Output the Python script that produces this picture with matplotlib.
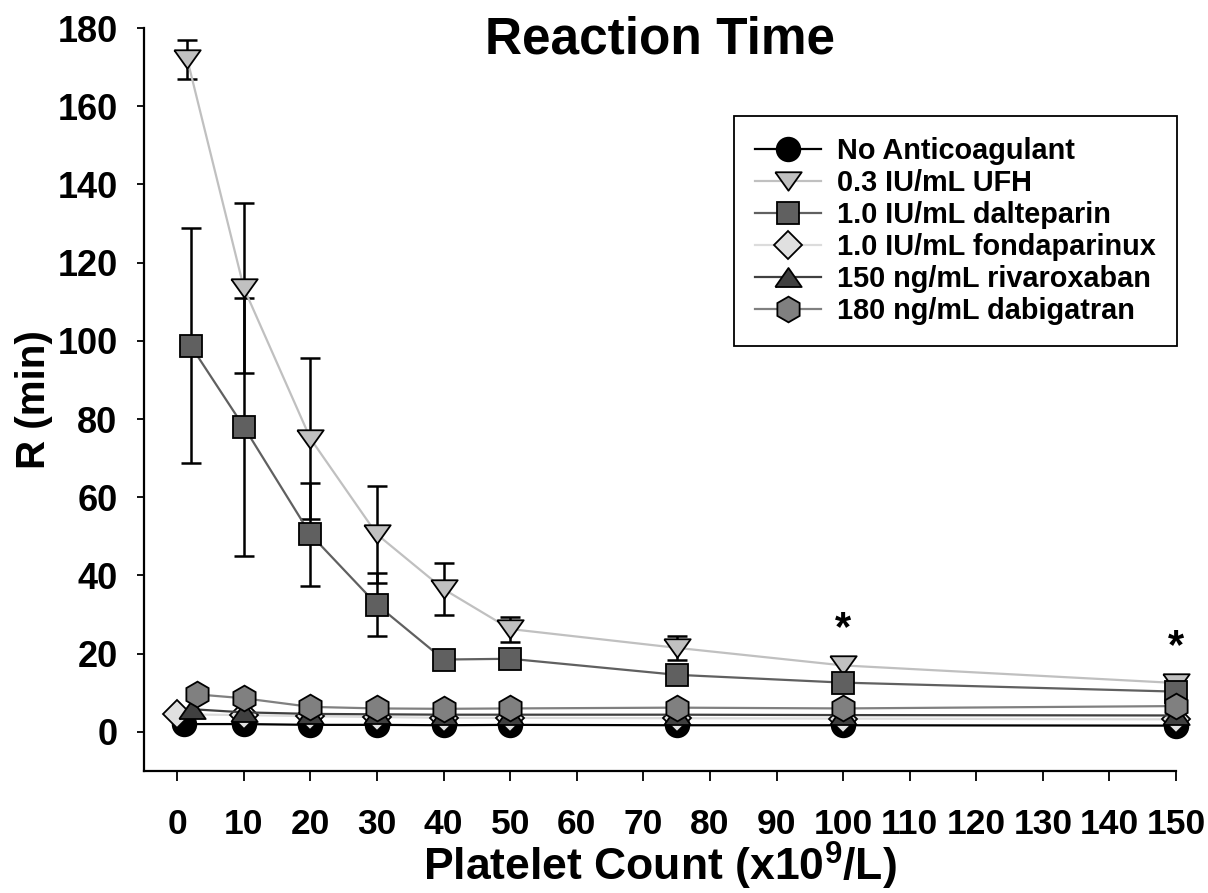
import matplotlib
matplotlib.use("Agg")
import matplotlib.pyplot as plt
import numpy as np

plt.rcParams['font.family'] = ['Liberation Sans', 'DejaVu Sans']
plt.rcParams['font.weight'] = 'bold'
plt.rcParams['mathtext.fontset'] = 'custom'
plt.rcParams['mathtext.rm'] = 'Liberation Sans:bold'
plt.rcParams['mathtext.bf'] = 'Liberation Sans:bold'
plt.rcParams['mathtext.default'] = 'bf'

# platelet counts (x10^9/L); first point differs a little per series
x_none = [1.0, 10, 20, 30, 40, 50, 75, 100, 150]
x_ufh = [1.5, 10, 20, 30, 40, 50, 75, 100, 150]
x_dalt = [2.0, 10, 20, 30, 40, 50, 75, 100, 150]
x_fonda = [0.0, 10, 20, 30, 40, 50, 75, 100, 150]
x_riva = [2.2, 10, 20, 30, 40, 50, 75, 100, 150]
x_dabi = [2.9, 10, 20, 30, 40, 50, 75, 100, 150]

# R (min)
r_none = [2.0, 2.0, 1.8, 1.8, 1.7, 1.8, 1.7, 1.7, 1.6]
r_ufh = [172.0, 113.5, 75.0, 50.5, 36.5, 26.3, 21.5, 17.0, 12.5]
err_ufh = [5.0, 21.7, 20.5, 12.3, 6.6, 3.2, 3.0, 2.0, 1.0]
r_dalt = [98.8, 78.0, 50.5, 32.5, 18.5, 18.7, 14.6, 12.6, 10.3]
err_dalt = [30.0, 33.0, 13.2, 8.1, 1.5, 1.5, 1.0, 1.0, 1.0]
r_fonda = [4.5, 4.3, 4.0, 3.8, 3.6, 3.6, 3.5, 3.4, 3.2]
r_riva = [5.8, 5.0, 4.6, 4.5, 4.4, 4.4, 4.4, 4.3, 4.2]
r_dabi = [9.6, 8.6, 6.4, 6.0, 5.9, 6.0, 6.2, 6.0, 6.6]

labels = ["No Anticoagulant", "0.3 IU/mL UFH", "1.0 IU/mL dalteparin",
          "1.0 IU/mL fondaparinux", "150 ng/mL rivaroxaban", "180 ng/mL dabigatran"]

# significance markers
star_x = [100, 150]
star_y = [26.2, 21.8]

xticks = np.arange(0, 151, 10)
yticks = np.arange(0, 181, 20)

tri_down = [(-1, 0.7), (1, 0.7), (0, -0.7), (-1, 0.7)]
tri_up = [(-1, -0.72), (1, -0.72), (0, 0.72), (-1, -0.72)]

fig = plt.figure(figsize=(12.08, 8.93), dpi=100)
ax = fig.add_axes([144/1208, 1-771/893, 1032/1208, 743/893])

# error bars below the markers
ax.errorbar(x_ufh, r_ufh, yerr=err_ufh, fmt='none', ecolor='black',
            elinewidth=1.8, capsize=7.5, capthick=1.8, zorder=1)
ax.errorbar(x_dalt, r_dalt, yerr=err_dalt, fmt='none', ecolor='black',
            elinewidth=1.8, capsize=7.5, capthick=1.8, zorder=1)

series = [
    (x_none, r_none, 'o', 17, 'black', 'black'),
    (x_ufh, r_ufh, tri_down, 19, '#c0c0c0', '#c0c0c0'),
    (x_dalt, r_dalt, 's', 15.5, '#606060', '#606060'),
    (x_fonda, r_fonda, 'D', 14, '#e0e0e0', '#dcdcdc'),
    (x_riva, r_riva, tri_up, 19, '#404040', '#404040'),
    (x_dabi, r_dabi, 'h', 18.5, '#808080', '#808080'),
]
for i, (xs, ys, mk, ms, fc, lc) in enumerate(series):
    ax.plot(xs, ys, marker=mk, markersize=ms, markerfacecolor=fc,
            markeredgecolor='black', markeredgewidth=1.3, color=lc,
            linewidth=1.6, label=labels[i], zorder=3 + i, clip_on=False)

for sx, sy in zip(star_x, star_y):
    ax.text(sx, sy, '*', ha='center', va='center', fontsize=30,
            fontweight='bold', zorder=10)

ax.set_xlim(-5, 150)
ax.set_ylim(-10, 180)
ax.set_xticks(xticks)
ax.set_yticks(yticks)
ax.spines['top'].set_visible(False)
ax.spines['right'].set_visible(False)
ax.spines['left'].set_linewidth(1.6)
ax.spines['bottom'].set_linewidth(1.6)
ax.tick_params(axis='x', direction='out', length=7, width=1.3, pad=20, labelsize=25.5)
ax.tick_params(axis='y', direction='out', length=5, width=1.3, pad=14, labelsize=26)
for lab in ax.get_xticklabels() + ax.get_yticklabels():
    lab.set_fontweight('bold')

fig.text(660/1208, 1-881/893, 'Platelet Count (x10$^{9}$/L)', ha='center',
         va='baseline', fontsize=32, fontweight='bold')
ax.set_ylabel('R (min)', fontsize=29, fontweight='bold', labelpad=3)
fig.text(660/1208, 1-40/893, 'Reaction Time', ha='center', va='center',
         fontsize=37, fontweight='bold')

leg = ax.legend(loc='upper right', bbox_to_anchor=(1.001, 0.8816),
                borderaxespad=0, fancybox=False, framealpha=1,
                edgecolor='black', prop={'size': 20.8, 'weight': 'bold'},
                handlelength=2.3, handletextpad=0.56, labelspacing=0.14,
                borderpad=0.72)
leg.get_frame().set_linewidth(1.3)

fig.savefig('out.png', dpi=100)
